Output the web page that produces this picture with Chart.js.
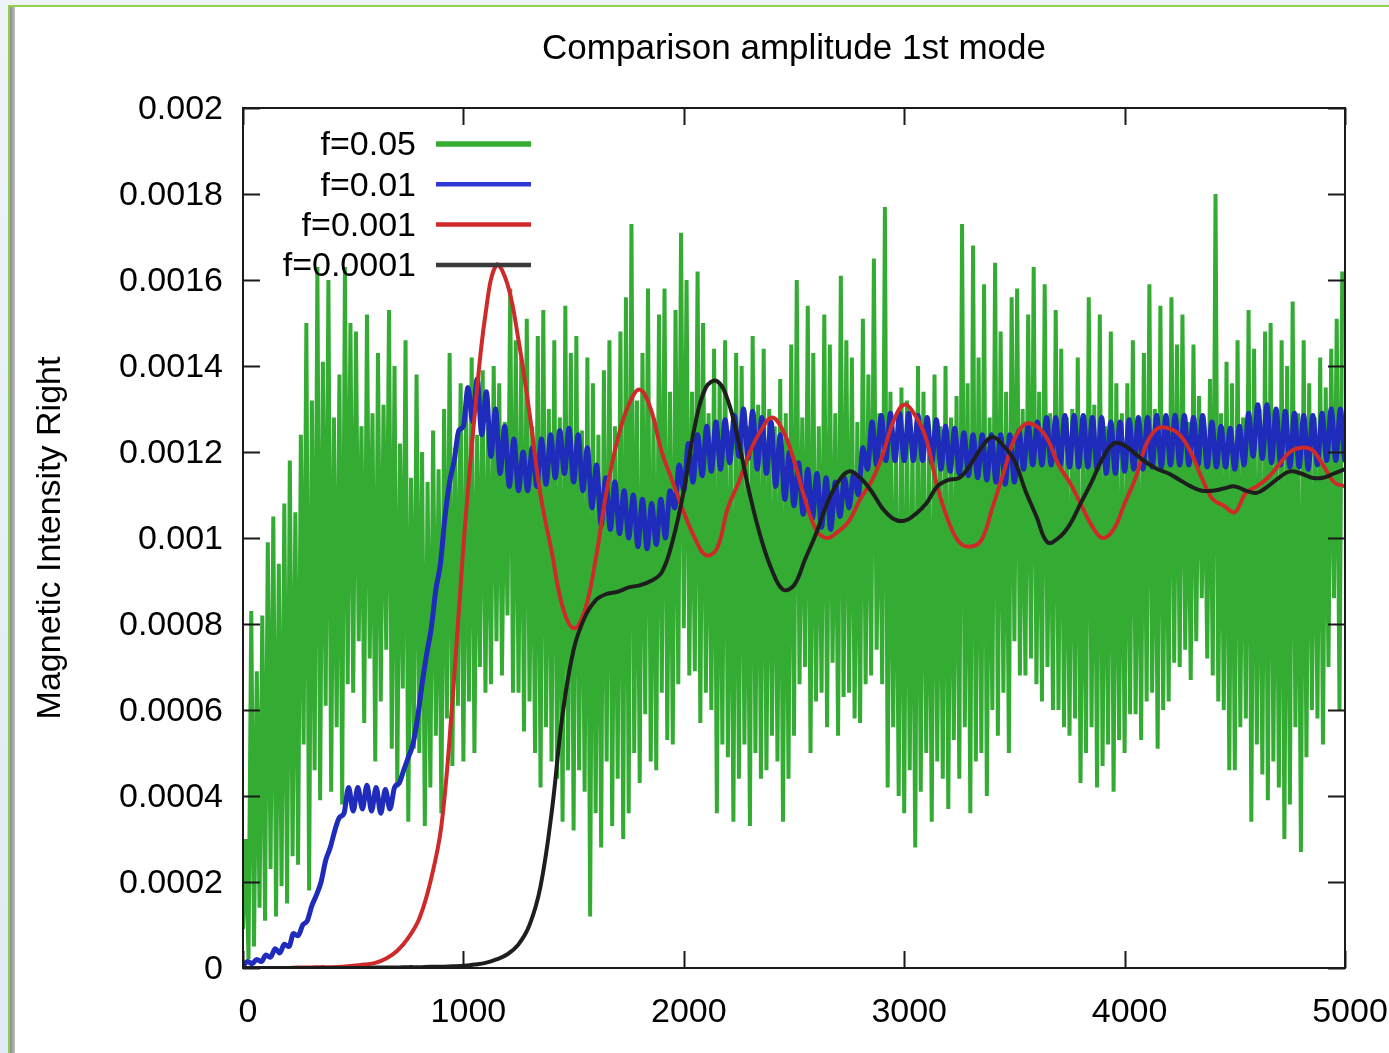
<!DOCTYPE html>
<html>
<head>
<meta charset="utf-8">
<title>Comparison amplitude 1st mode</title>
<script src="https://cdn.jsdelivr.net/npm/chart.js@4.4.1/dist/chart.umd.min.js"></script>
<style>
  html, body { margin: 0; padding: 0; }
  body {
    width: 1389px; height: 1053px; position: relative; overflow: hidden;
    background: linear-gradient(to bottom, #eef3f8, #dfeaf6);
  }
  #sheet {
    position: absolute; left: 8px; top: 5px; right: 0; bottom: 0;
    background: #fff; border-left: 2px solid #8fd14f; border-top: 2px solid #8fd14f;
  }
  #shade {
    position: absolute; left: 10px; top: 7px; width: 5px; bottom: 0;
    background: linear-gradient(to right, #8a8a8a, #bdbdbd);
  }
  canvas { position: absolute; left: 0; top: 0; }
</style>
</head>
<body>
<div id="sheet"></div>
<div id="shade"></div>
<canvas id="chart" width="1389" height="1053"></canvas>
<script>
const xTickLabels = ['0', '1000', '2000', '3000', '4000', '5000'];
const yTickLabels = ['0', '0.0002', '0.0004', '0.0006', '0.0008', '0.001',
                     '0.0012', '0.0014', '0.0016', '0.0018', '0.002'];
const seriesLabels = ['f=0.05', 'f=0.01', 'f=0.001', 'f=0.0001'];

// all amplitudes below are written in units of 1e-4
const UNIT = 1e-4;

// f=0.05: fast oscillation, one trough + one crest every 25 time units
const greenStep = 25;
const greenHigh = [
  3.0, 8.3, 6.9, 8.2, 9.9, 10.5, 9.4, 10.8, 11.8, 10.6,
  12.4, 15.0, 13.2, 16.3, 14.1, 16.0, 12.8, 13.8, 16.3, 15.0,
  14.8, 12.6, 15.2, 12.9, 14.3, 13.1, 15.3, 14.0, 12.2, 14.6,
  11.4, 13.8, 12.0, 11.3, 12.5, 11.6, 13.0, 14.3, 12.1, 13.6,
  13.0, 14.2, 12.4, 13.9, 12.6, 14.0, 13.6, 12.7, 15.8, 14.6,
  14.2, 15.1, 12.6, 14.7, 15.3, 13.0, 14.6, 12.8, 15.4, 14.3,
  14.7, 12.5, 14.2, 13.6, 12.4, 13.9, 14.6, 12.6, 14.8, 15.6,
  17.3, 13.2, 14.3, 15.8, 12.8, 15.2, 15.8, 13.4, 15.3, 17.1,
  16.0, 13.4, 16.2, 15.0, 12.9, 14.4, 13.6, 14.6, 12.5, 14.3,
  14.0, 12.6, 14.7, 13.1, 14.4, 13.0, 12.6, 13.7, 12.9, 14.5,
  16.0, 12.8, 15.4, 14.3, 12.6, 15.2, 14.5, 12.9, 16.1, 14.6,
  14.2, 12.7, 15.1, 13.8, 16.5, 12.9, 17.7, 13.4, 12.3, 13.5,
  13.2, 12.4, 14.0, 13.4, 12.2, 13.8, 12.6, 14.0, 12.8, 13.3,
  17.3, 13.6, 16.8, 14.2, 15.9, 12.8, 16.4, 14.8, 13.4, 15.6,
  15.8, 13.0, 15.2, 16.3, 13.4, 15.9, 12.9, 15.3, 14.4, 12.8,
  13.0, 14.2, 12.4, 15.6, 13.1, 15.2, 12.6, 14.8, 13.6, 12.9,
  13.6, 14.6, 12.5, 14.3, 15.9, 13.0, 15.4, 12.8, 15.6, 14.5,
  15.2, 12.7, 14.5, 13.3, 12.6, 13.7, 18.0, 12.9, 14.1, 13.6,
  14.6, 12.8, 15.3, 14.4, 13.0, 14.8, 15.0, 12.9, 14.6, 14.0,
  15.5, 12.9, 14.6, 13.6, 12.8, 14.2, 13.5, 14.4, 15.1, 16.2
];
const greenLow = [
  0.9, 0.2, 0.5, 1.4, 1.1, 2.3, 1.2, 1.9, 1.5, 2.6,
  2.4, 5.2, 1.8, 4.6, 3.9, 6.1, 4.1, 5.6, 3.8, 6.6,
  6.4, 7.6, 5.7, 7.2, 4.8, 6.2, 7.4, 5.1, 4.2, 6.5,
  3.4, 5.1, 5.0, 3.3, 4.2, 5.4, 3.6, 5.8, 4.7, 6.1,
  4.8, 6.2, 5.0, 7.0, 6.4, 6.6, 7.6, 6.8, 8.2, 6.4,
  6.4, 5.5, 6.2, 5.0, 4.2, 5.6, 4.8, 4.4, 3.4, 4.6,
  3.2, 4.6, 4.1, 1.2, 3.6, 2.8, 4.8, 3.3, 4.4, 3.0,
  3.6, 5.0, 4.3, 5.9, 4.8, 4.6, 6.4, 5.3, 5.2, 6.6,
  7.9, 6.8, 6.9, 5.7, 6.4, 6.0, 3.6, 5.2, 4.9, 3.4,
  4.4, 5.2, 3.3, 5.0, 4.4, 4.6, 5.4, 4.8, 3.4, 4.4,
  5.4, 6.6, 7.0, 5.0, 6.2, 6.4, 5.6, 7.1, 5.4, 6.3,
  6.4, 5.8, 5.7, 6.6, 6.8, 7.4, 6.6, 4.2, 5.6, 4.0,
  3.6, 4.6, 2.8, 4.1, 5.0, 3.4, 4.8, 4.4, 3.7, 5.3,
  4.4, 5.6, 3.6, 4.8, 5.0, 4.0, 6.0, 5.4, 6.4, 5.0,
  7.6, 6.8, 6.8, 7.2, 6.6, 6.2, 7.0, 6.0, 6.0, 5.6,
  5.4, 5.8, 4.3, 5.0, 5.6, 4.2, 4.7, 5.2, 4.1, 5.3,
  5.0, 5.9, 5.9, 5.3, 6.2, 6.4, 5.1, 6.0, 6.2, 7.1,
  7.0, 7.4, 6.7, 7.6, 8.6, 7.2, 6.8, 6.2, 6.0, 4.6,
  4.6, 5.6, 5.8, 3.4, 5.2, 4.5, 3.9, 4.8, 4.2, 3.0,
  3.8, 5.6, 2.7, 4.9, 6.0, 5.8, 5.2, 7.0, 8.6, 6.0
];

// f=0.01: crest / trough pairs of the ripple, 120 periods over the run
const blueStep = 5000 / 120;
const blueHigh = [
  0.15, 0.2, 0.3, 0.45, 0.55, 0.8, 1.0, 1.45, 2.0, 2.8,
  3.5, 4.2, 4.2, 4.25, 4.2, 4.15, 4.2, 4.6, 5.2, 6.6,
  7.9, 9.4, 11.3, 12.5, 13.5, 13.7, 13.4, 13.0, 12.6, 12.3,
  12.0, 12.1, 12.3, 12.4, 12.5, 12.55, 12.4, 12.1, 11.7, 11.4,
  11.3, 11.1, 11.0, 10.9, 10.8, 10.9, 11.1, 11.7, 12.2, 12.4,
  12.6, 12.7, 12.75, 12.85, 13.0, 12.95, 12.8, 12.7, 12.4, 12.0,
  11.75, 11.6, 11.5, 11.4, 11.3, 11.4, 11.5, 12.1, 12.7, 12.85,
  12.9, 12.9, 12.9, 12.85, 12.8, 12.75, 12.6, 12.55, 12.45, 12.4,
  12.4, 12.4, 12.4, 12.4, 12.5, 12.65, 12.7, 12.8, 12.8, 12.85,
  12.85, 12.85, 12.8, 12.8, 12.7, 12.7, 12.75, 12.8, 12.8, 12.85,
  12.85, 12.85, 12.85, 12.8, 12.85, 12.7, 12.6, 12.55, 12.6, 12.9,
  13.1, 13.1, 13.0, 12.95, 12.9, 12.85, 12.85, 12.9, 13.0, 13.0,
  12.6
];
const blueLow = [
  0.05, 0.1, 0.15, 0.25, 0.35, 0.5, 0.75, 1.1, 1.7, 2.5,
  3.2, 3.6, 3.65, 3.7, 3.65, 3.6, 3.7, 4.3, 4.9, 5.8,
  7.3, 8.8, 10.5, 11.8, 12.6, 12.7, 12.4, 11.9, 11.5, 11.2,
  11.1, 11.1, 11.2, 11.25, 11.4, 11.5, 11.3, 11.1, 10.7, 10.3,
  10.2, 10.1, 10.0, 9.8, 9.75, 9.85, 10.0, 10.7, 11.1, 11.3,
  11.45, 11.55, 11.6, 11.75, 11.9, 11.85, 11.6, 11.5, 11.2, 10.9,
  10.75, 10.55, 10.45, 10.25, 10.2, 10.5, 10.7, 11.0, 11.6, 11.7,
  11.8, 11.8, 11.8, 11.8, 11.8, 11.75, 11.6, 11.55, 11.5, 11.45,
  11.4, 11.35, 11.3, 11.25, 11.3, 11.6, 11.7, 11.7, 11.7, 11.7,
  11.65, 11.65, 11.65, 11.6, 11.5, 11.5, 11.55, 11.6, 11.6, 11.65,
  11.65, 11.7, 11.7, 11.7, 11.7, 11.65, 11.65, 11.65, 11.6, 11.7,
  11.9, 11.85, 11.75, 11.7, 11.65, 11.65, 11.6, 11.7, 11.8, 11.8,
  11.8
];

// f=0.001 and f=0.0001: sampled every 50 time units from 0 to 5000
const smoothStep = 50;
const redValues = [
  0, 0, 0, 0, 0, 0.01, 0.01, 0.02, 0.02, 0.03,
  0.05, 0.08, 0.12, 0.22, 0.4, 0.7, 1.15, 2.0, 3.3, 6.2,
  9.8, 12.8, 15.2, 16.35, 15.9, 14.6, 12.9, 11.0, 9.7, 8.4,
  7.9, 8.3, 9.5, 11.1, 12.3, 13.1, 13.45, 13.0, 12.0, 11.3,
  10.6, 10.0, 9.6, 9.75, 10.7, 11.3, 12.0, 12.5, 12.8, 12.5,
  11.8, 10.9, 10.2, 10.0, 10.15, 10.4, 10.9, 11.3, 11.9, 12.7,
  13.1, 12.85, 12.3, 11.2, 10.4, 9.9, 9.8, 9.95, 10.7, 11.5,
  12.3, 12.65, 12.6, 12.3, 11.7, 11.3, 10.8, 10.3, 10.0, 10.2,
  10.8, 11.4, 12.2, 12.55, 12.55, 12.4, 12.0, 11.4, 10.9, 10.75,
  10.6, 11.05, 11.2, 11.4, 11.7, 12.0, 12.1, 12.05, 11.7, 11.3,
  11.2
];
const blackValues = [
  0, 0, 0, 0, 0, 0, 0, 0, 0, 0,
  0, 0, 0.01, 0.01, 0.01, 0.02, 0.02, 0.03, 0.03, 0.04,
  0.05, 0.08, 0.12, 0.2, 0.32, 0.55, 1.0, 1.9, 3.6, 5.9,
  7.4, 8.15, 8.55, 8.7, 8.75, 8.85, 8.9, 9.0, 9.2, 9.95,
  11.1, 12.6, 13.5, 13.65, 13.2, 12.2, 11.0, 10.0, 9.25, 8.8,
  8.9, 9.5, 10.1, 10.8, 11.3, 11.55, 11.4, 11.1, 10.7, 10.45,
  10.4, 10.55, 10.8, 11.2, 11.35, 11.4, 11.7, 12.1, 12.35, 12.15,
  11.8, 11.1, 10.5, 9.9, 10.0, 10.3, 10.8, 11.3, 11.85, 12.2,
  12.15, 11.95, 11.75, 11.6, 11.5, 11.35, 11.2, 11.1, 11.1, 11.15,
  11.2, 11.1, 11.05, 11.2, 11.4, 11.55, 11.5, 11.4, 11.4, 11.5,
  11.6
];

// trough then crest, half a step apart
function pairsToPoints(low, high, step) {
  const pts = [];
  low.forEach((v, i) => {
    pts.push({ x: i * step, y: v * UNIT });
    pts.push({ x: i * step + step / 2, y: high[i] * UNIT });
  });
  return pts;
}

function sampledPoints(values, step) {
  return values.map((v, i) => ({ x: i * step, y: v * UNIT }));
}

const FONT = { family: "'Liberation Sans', Arial, sans-serif", size: 34 };
const TICK_LEN = 17;

// gnuplot style box: frame and mirrored inward ticks, title above, key in the top left corner
const gnuplotFrame = {
  id: 'gnuplotFrame',
  afterDatasetsDraw(chart) {
    const { ctx, chartArea: a, scales } = chart;
    const xs = scales.x, ys = scales.y;
    ctx.save();
    ctx.strokeStyle = '#1a1a1a';
    ctx.lineWidth = 2;
    ctx.beginPath();
    xs.ticks.forEach(t => {
      const px = Math.round(xs.getPixelForValue(t.value)) + 0.5;
      ctx.moveTo(px, a.bottom); ctx.lineTo(px, a.bottom - TICK_LEN);
      ctx.moveTo(px, a.top); ctx.lineTo(px, a.top + TICK_LEN);
    });
    ys.ticks.forEach(t => {
      const py = Math.round(ys.getPixelForValue(t.value)) + 0.5;
      ctx.moveTo(a.left, py); ctx.lineTo(a.left + TICK_LEN, py);
      ctx.moveTo(a.right, py); ctx.lineTo(a.right - TICK_LEN, py);
    });
    ctx.stroke();
    ctx.strokeRect(a.left, a.top, a.right - a.left, a.bottom - a.top);

    ctx.fillStyle = '#000';
    ctx.font = `35px ${FONT.family}`;
    ctx.textBaseline = 'middle';
    ctx.textAlign = 'center';
    ctx.fillText('Comparison amplitude 1st mode', (a.left + a.right) / 2, 49);

    // key
    ctx.font = `${FONT.size}px ${FONT.family}`;
    ctx.textAlign = 'right';
    chart.data.datasets.forEach((ds, i) => {
      const y = a.top + 36 + i * 40.3;
      ctx.fillStyle = '#000';
      ctx.fillText(ds.label, a.left + 173, y + 2);
      ctx.strokeStyle = ds.keyColor || ds.borderColor;
      ctx.lineWidth = ds.keyWidth;
      ctx.beginPath();
      ctx.moveTo(a.left + 193, y);
      ctx.lineTo(a.left + 288, y);
      ctx.stroke();
    });
    ctx.restore();
  }
};

new Chart(document.getElementById('chart'), {
  type: 'line',
  data: {
    datasets: [
      {
        label: seriesLabels[0], data: pairsToPoints(greenLow, greenHigh, greenStep),
        borderColor: '#34ac34', borderWidth: 4, keyWidth: 5.5, borderJoinStyle: 'bevel',
        pointRadius: 0, tension: 0, order: 3
      },
      {
        label: seriesLabels[1], data: pairsToPoints(blueLow, blueHigh, blueStep),
        borderColor: '#1e2bbb', keyColor: '#3038d6', borderWidth: 5, keyWidth: 4.5,
        pointRadius: 0, cubicInterpolationMode: 'monotone', order: 2
      },
      {
        label: seriesLabels[2], data: sampledPoints(redValues, smoothStep),
        borderColor: '#cf2a2a', borderWidth: 4, keyWidth: 4.5,
        pointRadius: 0, tension: 0.4, order: 1
      },
      {
        label: seriesLabels[3], data: sampledPoints(blackValues, smoothStep),
        borderColor: '#1e1e1e', keyColor: '#3a3a3a', borderWidth: 4, keyWidth: 4.5,
        pointRadius: 0, tension: 0.4, order: 0
      }
    ]
  },
  options: {
    responsive: false,
    animation: false,
    events: [],
    layout: { padding: { left: 0, right: 44, top: 108, bottom: 0 } },
    plugins: {
      legend: { display: false },
      tooltip: { enabled: false },
      title: { display: false }
    },
    scales: {
      x: {
        type: 'linear', min: 0, max: 5000,
        grid: { display: false, drawTicks: false },
        border: { display: false },
        ticks: {
          stepSize: 1000, padding: 24, labelOffset: 5, autoSkip: false, maxRotation: 0,
          color: '#000', font: FONT,
          callback: (v, i) => xTickLabels[i]
        },
        afterFit: s => { s.height = 85; s.paddingLeft = 0; s.paddingRight = 0; }
      },
      y: {
        type: 'linear', min: 0, max: 0.002,
        grid: { display: false, drawTicks: false },
        border: { display: false },
        ticks: {
          stepSize: 0.0002, padding: 20, labelOffset: 2, autoSkip: false,
          color: '#000', font: FONT,
          callback: (v, i) => yTickLabels[i]
        },
        title: {
          display: true, text: 'Magnetic Intensity Right',
          color: '#000', font: FONT, padding: { top: 30, bottom: 0 }
        },
        afterFit: s => { s.width = 243; }
      }
    }
  },
  plugins: [gnuplotFrame]
});
</script>
</body>
</html>
